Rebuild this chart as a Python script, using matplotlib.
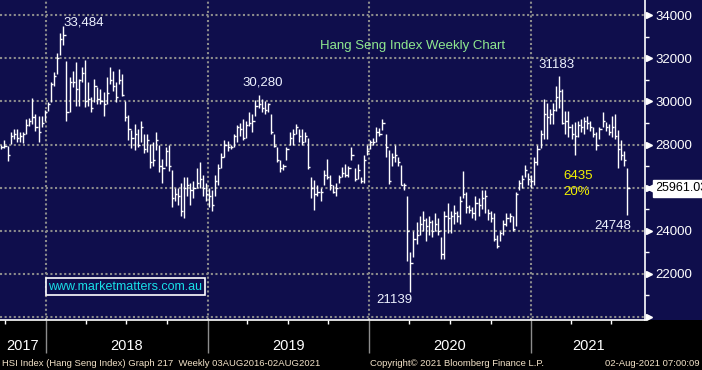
import matplotlib
matplotlib.use('Agg')
import matplotlib.pyplot as plt
import matplotlib.dates as mdates
import matplotlib.ticker as mticker
import matplotlib.transforms as mtransforms
from matplotlib.patches import Rectangle
import pandas as pd

plt.rcParams['font.family'] = ['Liberation Sans', 'DejaVu Sans']

# weekly HSI bars (high / low / close)
highs = [28000, 28200, 27940, 28560, 28720, 28720, 28560, 28600, 29200, 29230,
         30160, 29420, 29340, 29340, 29600, 29960, 30890, 31360, 32240, 33180,
         33484, 31900, 31150, 31430, 31820, 31050, 31590, 31930, 30900, 30220,
         31050, 30660, 30580, 30430, 31130, 31590, 31400, 30900, 31500, 31260,
         30000, 29390, 28690, 28960, 28700, 29080, 28500, 28500, 28040, 28100,
         28600, 27960, 27350, 27900, 28000, 26800, 26000, 26000, 26200, 26500,
         26500, 26200, 26300, 26900, 27200, 26600, 26200, 26000, 25900, 26600,
         27100, 27600, 28200, 28150, 28000, 28500, 28900, 29000, 29200, 29100,
         29500, 29400, 30060, 30280, 30100, 30000, 29950, 29400, 28500, 27900,
         27300, 27100, 27900, 28570, 28700, 28960, 28700, 28700, 28600, 28300,
         26500, 26350, 26100, 26000, 26800, 27350, 26600, 26100, 26200, 26600,
         26960, 27100, 27000, 27890, 26900, 27100, 26500, 27500, 27970, 28230,
         28300, 28820, 28750, 29175, 28500, 27740, 27600, 28000, 27400, 27040,
         26200, 25600, 23000, 24000, 24400, 24700, 24900, 24600, 24700, 24500,
         24800, 24600, 23700, 24900, 25300, 24900, 25200, 24900, 25600, 26770,
         25800, 25200, 25100, 25600, 25500, 25900, 25900, 25000, 24900, 24800,
         23800, 24000, 24500, 24800, 24800, 24700, 25800, 26350, 26600, 27050,
         26670, 26600, 27440, 27970, 28660, 30100, 29950, 29650, 29950, 30720,
         31183, 30600, 29570, 29570, 28960, 29040, 29110, 29190, 29270, 29340,
         29110, 28810, 28580, 28810, 29500, 29040, 28960, 29340, 29420, 28660,
         28200, 27700, 26900]
lows = [27780, 27830, 27240, 28020, 28250, 28100, 28140, 28080, 28480, 28870,
        28950, 28640, 28100, 28800, 29100, 29570, 29960, 30740, 31280, 32140,
        32600, 29100, 29500, 30650, 29800, 29800, 30890, 29730, 29800, 29500,
        29960, 29880, 29880, 29340, 29880, 30810, 30500, 29960, 30800, 30270,
        29110, 28190, 27860, 27730, 27900, 28110, 27600, 27650, 26890, 27000,
        27750, 26730, 26230, 27000, 26750, 25100, 25400, 25200, 24660, 24580,
        25600, 25200, 25500, 26000, 26000, 25600, 25400, 25100, 24900, 25600,
        26100, 26900, 27400, 27700, 27800, 27880, 28100, 28400, 28200, 28300,
        28850, 28600, 29340, 29700, 29500, 29400, 29500, 28500, 27900, 27190,
        26730, 26800, 27270, 27960, 28000, 28500, 28100, 28000, 28100, 26880,
        25500, 24970, 25600, 25400, 26100, 26420, 25900, 25730, 25600, 26200,
        26500, 26500, 26500, 27270, 26300, 26400, 26200, 26200, 27500, 27810,
        28000, 28120, 28400, 28660, 27400, 26190, 27000, 27200, 27000, 26100,
        25900, 22600, 21139, 22800, 23400, 23800, 24000, 23500, 23800, 23700,
        24000, 23800, 22700, 22700, 23900, 23900, 24300, 24400, 24300, 25500,
        24800, 24800, 24600, 24500, 24700, 25000, 24800, 24500, 24400, 23500,
        23200, 23500, 23800, 24200, 24400, 24000, 24200, 25900, 26000, 26500,
        26140, 26000, 26140, 27050, 27820, 28270, 28270, 28960, 28960, 29570,
        29700, 28960, 28500, 28350, 28270, 27510, 28350, 28580, 28500, 28730,
        28650, 28350, 27740, 28270, 28810, 28650, 28430, 28350, 28270, 26900,
        27300, 27000, 24748]
closes = [27900, 27950, 27500, 28400, 28500, 28300, 28400, 28500, 28900, 29100,
          29300, 28800, 28600, 29000, 29500, 29900, 30800, 31200, 32000, 32900,
          33100, 29500, 30900, 30900, 30600, 31000, 31300, 30000, 30100, 29700,
          30700, 30100, 30000, 29900, 30400, 31000, 30700, 30200, 31000, 30300,
          29300, 28700, 28300, 28500, 28000, 28800, 27800, 28200, 27200, 27300,
          28200, 27000, 26900, 27700, 27000, 25500, 25700, 25600, 24900, 26000,
          26100, 25900, 26000, 26200, 26400, 26000, 25700, 25600, 25200, 26300,
          26900, 27400, 28000, 27900, 27900, 28400, 28800, 28700, 28300, 28900,
          29000, 29100, 29800, 29900, 29700, 29600, 29900, 28600, 27950, 27300,
          26900, 27000, 27800, 28300, 28500, 28800, 28400, 28100, 28400, 26950,
          26000, 25700, 25800, 25800, 26600, 26500, 26100, 25800, 26000, 26500,
          26700, 26600, 26900, 27500, 26400, 26800, 26300, 27300, 27700, 28100,
          28100, 28600, 28500, 29000, 27900, 26300, 27400, 27500, 27200, 26100,
          26100, 24000, 22500, 23600, 23800, 24300, 24500, 24200, 24400, 24000,
          24300, 24000, 22900, 24700, 24600, 24700, 24800, 24700, 25400, 25700,
          25100, 24950, 24800, 25300, 25200, 25500, 25600, 24800, 24600, 23600,
          23300, 23900, 24300, 24600, 24700, 24100, 25700, 26200, 26400, 26800,
          26400, 26300, 27200, 27800, 28500, 29400, 29300, 29400, 29600, 30200,
          30500, 29000, 29100, 28800, 28500, 28400, 28900, 28800, 29100, 29000,
          28800, 28500, 28000, 28700, 29100, 28800, 28600, 28800, 28400, 27800,
          27500, 27300, 25961]
weeks = pd.date_range(end='2021-08-06', periods=len(closes), freq='7D')

years = ['2017', '2018', '2019', '2020', '2021']
year_mid = ['2017-11-09', '2018-07-02', '2019-07-02', '2020-07-01', '2021-05-10']
price_ticks = [20000, 22000, 24000, 26000, 28000, 30000, 32000, 34000]
last_label = '25961.03'

navy = '#0f0e4c'
grid_col = '#8c8c8c'

fig = plt.figure(figsize=(7.02, 3.70), dpi=100, facecolor=navy)
fig.patches.append(Rectangle((0, 0), 1, 50 / 370, transform=fig.transFigure,
                             facecolor='black', edgecolor='none', zorder=-5))
ax = fig.add_axes([0, 50 / 370, 645 / 702, 320 / 370], facecolor=navy)

# OHLC style bars (high-low + close tick)
ax.vlines(weeks, lows, highs, color='white', linewidth=1.0, zorder=3)
ax.hlines(closes, weeks, weeks + pd.Timedelta(days=5), color='white',
          linewidth=1.0, zorder=3)

ax.set_xlim(pd.Timestamp('2017-09-19'), pd.Timestamp('2021-09-15'))
ax.set_ylim(19853, 34710)

for s in ['top', 'left']:
    ax.spines[s].set_visible(False)
ax.spines['right'].set_color('white')
ax.spines['bottom'].set_color('white')
ax.spines['right'].set_linewidth(1.2)
ax.spines['bottom'].set_linewidth(1.2)

# x axis: year gridlines, quarter ticks
ax.xaxis.set_major_locator(mdates.YearLocator())
ax.xaxis.set_minor_locator(mdates.MonthLocator(bymonth=[4, 7, 10]))
ax.tick_params(axis='x', which='major', length=24, color=grid_col, width=1,
               labelbottom=False)
ax.tick_params(axis='x', which='minor', length=3, color='white', width=1)

# y axis on the right
ax.yaxis.tick_right()
ax.set_yticks(price_ticks)
ax.set_yticklabels(['' if (p == 20000 or p == 26000) else str(p) for p in price_ticks])
ax.yaxis.set_minor_locator(mticker.MultipleLocator(1000))
ax.tick_params(axis='y', which='major', length=0, pad=7.5, labelcolor='white',
               labelsize=9.5)
ax.tick_params(axis='y', which='minor', length=3, color='white', width=1)

ax.set_axisbelow(True)
ax.grid(True, which='major', color=grid_col, linestyle=(0, (1, 1.2)),
        linewidth=1.5)

# triangle markers at the major price ticks
tri = mtransforms.blended_transform_factory(ax.transAxes, ax.transData) + \
    mtransforms.ScaledTranslation(4 / 100, 0, fig.dpi_scale_trans)
ax.plot([1.0] * len(price_ticks), price_ticks, linestyle='none', marker='>',
        markersize=5, color='white', transform=tri, clip_on=False, zorder=5)

# last price flag
flag = mtransforms.blended_transform_factory(ax.transAxes, ax.transData) + \
    mtransforms.ScaledTranslation(10 / 100, 0, fig.dpi_scale_trans)
ax.text(1.0, closes[-1], last_label, transform=flag, ha='left', va='center',
        fontsize=9, color='black', zorder=10, clip_on=False,
        bbox=dict(boxstyle='square,pad=0.2', facecolor='white', edgecolor='white'))
tip = mtransforms.blended_transform_factory(ax.transAxes, ax.transData) + \
    mtransforms.ScaledTranslation(6 / 100, 0, fig.dpi_scale_trans)
ax.plot([1.0], [closes[-1]], marker='<', markersize=7, color='white',
        transform=tip, clip_on=False, zorder=10)

# year labels under the axis
ybl = mtransforms.blended_transform_factory(ax.transData, ax.transAxes)
for yr, mid in zip(years, year_mid):
    ax.text(pd.Timestamp(mid), -0.081, yr, transform=ybl, ha='center',
            va='center', color='white', fontsize=10.5, clip_on=False)

# annotations
lbl = dict(color='#eef2ff', fontsize=9.5, ha='left', va='center')
ax.text(pd.Timestamp('2018-02-10'), 33665, '33,484', **lbl)
ax.text(pd.Timestamp('2019-03-20'), 30880, '30,280', **lbl)
ax.text(pd.Timestamp('2021-01-17'), 31690, '31183', **lbl)
ax.text(pd.Timestamp('2020-01-16'), 20804, '21139', **lbl)
ax.text(pd.Timestamp('2021-05-23'), 24217, '24748', **lbl)
ax.text(pd.Timestamp('2021-03-14'), 26538, '6435', color='#f2f200',
        fontsize=9.5, ha='left', va='center')
ax.text(pd.Timestamp('2021-03-14'), 25795, '20%', color='#f2f200',
        fontsize=9.5, ha='left', va='center')
ax.text(pd.Timestamp('2019-09-12'), 32574, 'Hang Seng Index Weekly Chart',
        color='#8fe88f', fontsize=9.5, ha='left', va='center')
ax.text(pd.Timestamp('2018-06-29'), 21408, 'www.marketmatters.com.au',
        color='#19e0e8', fontsize=9, ha='center', va='center', zorder=6,
        bbox=dict(boxstyle='square,pad=0.2', facecolor=navy, edgecolor='white',
                  linewidth=1.2))

# footer
foot = '#f2e2c8'
fig.text(2 / 702, 7 / 370, 'HSI Index (Hang Seng Index) Graph 217  Weekly 03AUG2016-02AUG2021',
         color=foot, fontsize=6.8, ha='left', va='center')
fig.text(370 / 702, 7 / 370, 'Copyright\u00a9 2021 Bloomberg Finance L.P.',
         color=foot, fontsize=6.8, ha='left', va='center')
fig.text(700 / 702, 7 / 370, '02-Aug-2021 07:00:09',
         color=foot, fontsize=6.8, ha='right', va='center')

fig.savefig('out.png', dpi=100, facecolor=navy)
